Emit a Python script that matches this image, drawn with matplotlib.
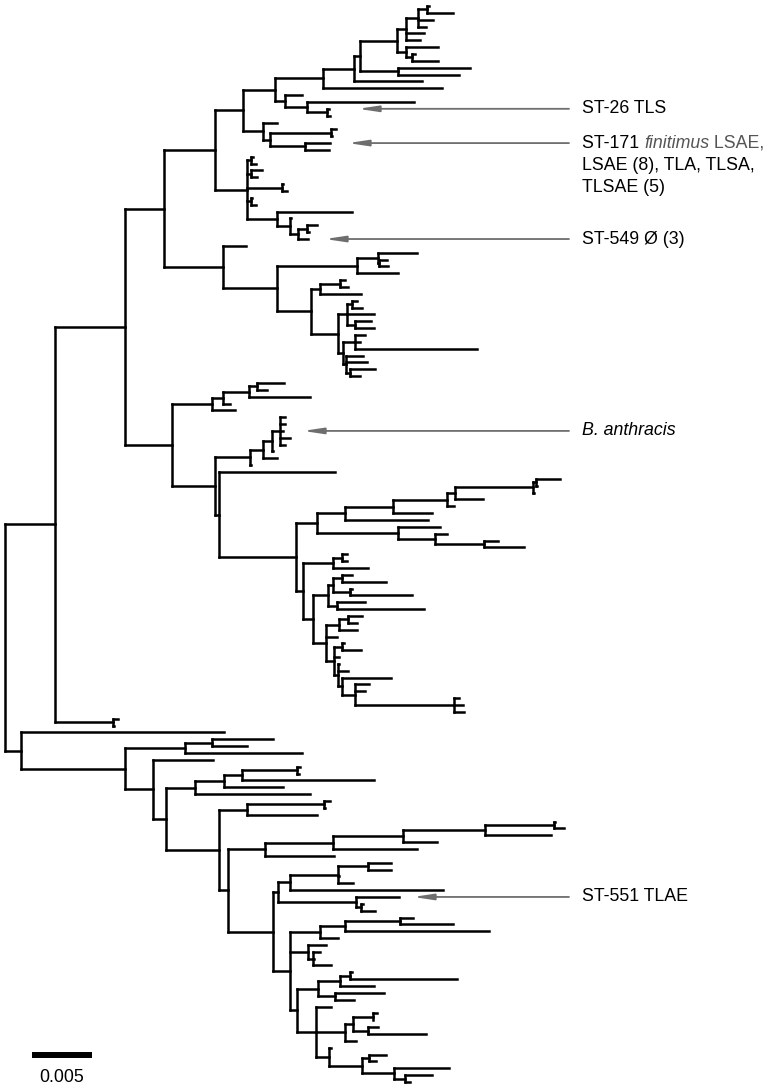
import matplotlib
matplotlib.use('Agg')
import matplotlib.pyplot as plt
from matplotlib.collections import LineCollection

plt.rcParams['font.family'] = ['Liberation Sans', 'DejaVu Sans']

# branch lengths in units of 1/60 of the scale bar (0.005)
UNIT = 0.005 / 60

# ---------------- upper clade (top) ----------------
T4 = "(:2,:26):9"
T3 = f"({T4},:15,:8):12"
T2 = f"({T3},:18,:14):9"
T5 = "(:32,(:3,:26):6):9"
T1 = f"({T2},{T5}):37"
P1 = f"({T1},(:72,:61):38):6"
P2 = f"({P1},:68):31"
P3 = f"({P2},:119):48"
U2 = "(:17,(:107,(ST26:2,:3):20):22):10"
U = f"({P3},{U2}):32"
Q1 = "(:14,((:5,:1):61,(ST171:25,:24):35):7):20"
S1 = f"({U},{Q1}):28"
S2 = "((:2,:5):4,(:11,:6):4,(:1,:5):35,(:1,:5):4,(:75,(:1,((:10,:2):9,ST549:10):8):13):30):32"
N4 = f"({S1},{S2}):51"

V1 = "((:39,(:8,:9):1):21,:41):80"
W1 = "((:5,:8):20,:41):9"
W3 = "((:5,:10):5,:27,(:16,:19):8):9"
W4 = "((:10,:5,:122):12,(:17,:21,(:25,:10):4):3):5"
W = f"({W1},({W3},{W4}):27):34"
N5 = f"(:23,({V1},{W}):54):59"
N3 = f"({N4},{N5}):39"

# ---------------- anthracis side ----------------
X = "((((:27,:10):8,:61):26,:7):11,:23):40"
A = "((((:5,:5,:3,:10,:5)BANT:8,:1):9,:14):13,:1):35"
Z3 = "((((((:24,:1):3,:1):78,:28):8,:7):54,:39):48,:83):28"
Z8 = "(:42,(:12,(:14,:40):49):37):81"
Z12 = "((:5,:5):9,:35):30"
Z15 = "(((:10,:44):9,(:2,:62):17):5,(:28,:87):9):15"
Z21 = "((:14,:9):9,:18):13"
Z23 = "((:2,:19):8,:5,(:1,:10,(:49,(:14,:10,(:5,:9,:10):99):13):4):4):8"
Z11 = f"({Z12},({Z15},({Z21},:11,{Z23}):13):10):7"
Z = f"(:116,(({Z3},{Z8}):21,{Z11}):77):4"
N6 = f"({X},({A},{Z}):43):47"
N2 = f"({N3},{N6}):70"
N1 = f"({N2},(:5,:1):58):50"

# ---------------- lower clade ----------------
L1 = "((:61,:35):27,:117):60"
L5 = "((((:3,:2):55,:132):18,:59):29,:115):29"
L10 = "((:6,:0.5):77,:70):28"
L13 = "(((((:1,:10):69,:66):82,:34):70,:84):68,:69):37"
L19 = "((((:23,:23):30,:1,:15):48,:153):12,(ST551:43,(:2,:14):5):78):5"
L26 = "(((:13,:53):55,:144):25,:18):30"
L29 = "(:18,(:7,:1,:18):5):18"
L32 = "(((:2,:107):10,:34):22,(:49,:19):17):21"
L36 = "(((:4,:0.5):20,(:10,:58):15):8,:11):29"
L40 = "(:2,((:17,:7):7,(:55,(:27,:5):11):32):33):13"
L31 = f"({L32},(:15,{L36},{L40}):19):7"
L18 = f"({L19},({L26},{L29},{L31}):17):45"
L9 = f"({L10},({L13},{L18}):9):53"
N8 = f"({L1},(:60,({L5},{L9}):13):28):104"
N7 = f"(:203,{N8}):16"

TREE = f"({N1},{N7});"

LABELS = {
    'ST26': 'ST-26 TLS',
    'ST549': 'ST-549 \u00d8 (3)',
    'ST551': 'ST-551 TLAE',
}


def parse(s):
    s = s.replace(' ', '').rstrip(';')
    pos = 0

    def node():
        nonlocal pos
        n = {'children': [], 'name': '', 'len': 0.0}
        if s[pos] == '(':
            pos += 1
            while True:
                n['children'].append(node())
                if s[pos] == ',':
                    pos += 1
                    continue
                if s[pos] == ')':
                    pos += 1
                    break
        st = pos
        while pos < len(s) and s[pos] not in ':,()':
            pos += 1
        n['name'] = s[st:pos]
        if pos < len(s) and s[pos] == ':':
            pos += 1
            st = pos
            while pos < len(s) and s[pos] not in ',()':
                pos += 1
            n['len'] = float(s[st:pos])
        return n
    return node()


root = parse(TREE)
leaves = []
named = {}


def layout(n, x0):
    n['x'] = x0 + n['len'] * UNIT
    if n['children']:
        for c in n['children']:
            layout(c, n['x'])
        n['y'] = (n['children'][0]['y'] + n['children'][-1]['y']) / 2
    else:
        n['y'] = float(len(leaves))
        leaves.append(n)
    if n['name']:
        named[n['name']] = n


layout(root, 0.0)
segs = []


def collect(n):
    if n['children']:
        ys = [c['y'] for c in n['children']]
        segs.append([(n['x'], ys[0]), (n['x'], ys[-1])])
        for c in n['children']:
            segs.append([(n['x'], c['y']), (c['x'], c['y'])])
            collect(c)


collect(root)

W_PX, H_PX = 768, 1088
PX_PER = 12000.0          # pixels per unit distance (60 px = 0.005)
ROOT_PX = 5.0
TOP_PX, BOT_PX = 6.0, 1082.0
N = len(leaves)
SP = (BOT_PX - TOP_PX) / (N - 1)


def xd(px):
    return (px - ROOT_PX) / PX_PER


def yd(px):
    return (px - TOP_PX) / SP


fig = plt.figure(figsize=(W_PX / 100, H_PX / 100), dpi=100)
ax = fig.add_axes([0, 0, 1, 1])
ax.set_xlim(xd(0), xd(W_PX))
ax.set_ylim(yd(H_PX), yd(0))
ax.axis('off')

lc = LineCollection(segs, colors='black', linewidths=1.8, capstyle='projecting')
ax.add_collection(lc)

ARROW_COLOR = '#6e6e6e'
ARROW_START_PX = 569
TEXT_PX = 582
FS = 12.8
LINE_PX = 22


def arrow(y, tip_px):
    ax.annotate('', xy=(xd(tip_px), y), xytext=(xd(ARROW_START_PX), y),
                arrowprops=dict(arrowstyle='-|>,head_length=1.2,head_width=0.18',
                                color=ARROW_COLOR, lw=1.3, shrinkA=0, shrinkB=0,
                                mutation_scale=10))


# ST-26
y26 = named['ST26']['y']
arrow(y26, 358)
ax.text(xd(TEXT_PX), y26, LABELS['ST26'], fontsize=FS, va='center', ha='left')

# ST-171
y171 = named['ST171']['y']
arrow(y171, 348)
t1 = ax.text(xd(TEXT_PX), y171, 'ST-171 ', fontsize=FS, va='center', ha='left')
t2 = ax.annotate('finitimus', xy=(1, 0), xycoords=t1, va='bottom', ha='left',
                 fontsize=FS, style='italic', color='#555555')
t3 = ax.annotate(' LSAE,', xy=(1, 0), xycoords=t2, va='bottom', ha='left',
                 fontsize=FS, color='#555555')
ax.text(xd(TEXT_PX), y171 + LINE_PX / SP, 'LSAE (8), TLA, TLSA,', fontsize=FS,
        va='center', ha='left')
ax.text(xd(TEXT_PX), y171 + 2 * LINE_PX / SP, 'TLSAE (5)', fontsize=FS,
        va='center', ha='left')

# ST-549
y549 = named['ST549']['y']
arrow(y549, 325)
ax.text(xd(TEXT_PX), y549, LABELS['ST549'], fontsize=FS, va='center', ha='left')

# B. anthracis
yb = named['BANT']['y']
arrow(yb, 303)
ax.text(xd(TEXT_PX), yb, 'B. anthracis', fontsize=FS, va='center', ha='left',
        style='italic')

# ST-551
y551 = named['ST551']['y']
arrow(y551, 413)
ax.text(xd(TEXT_PX), y551, LABELS['ST551'], fontsize=FS, va='center', ha='left')

# scale bar
SCALE = 0.005
sb0 = xd(32)
ax.plot([sb0, sb0 + SCALE], [yd(1055), yd(1055)], color='black', lw=4.3,
        solid_capstyle='butt')
ax.text(sb0 + SCALE / 2, yd(1077), '0.005', fontsize=FS, ha='center', va='center')

fig.savefig('out.png', dpi=100)
